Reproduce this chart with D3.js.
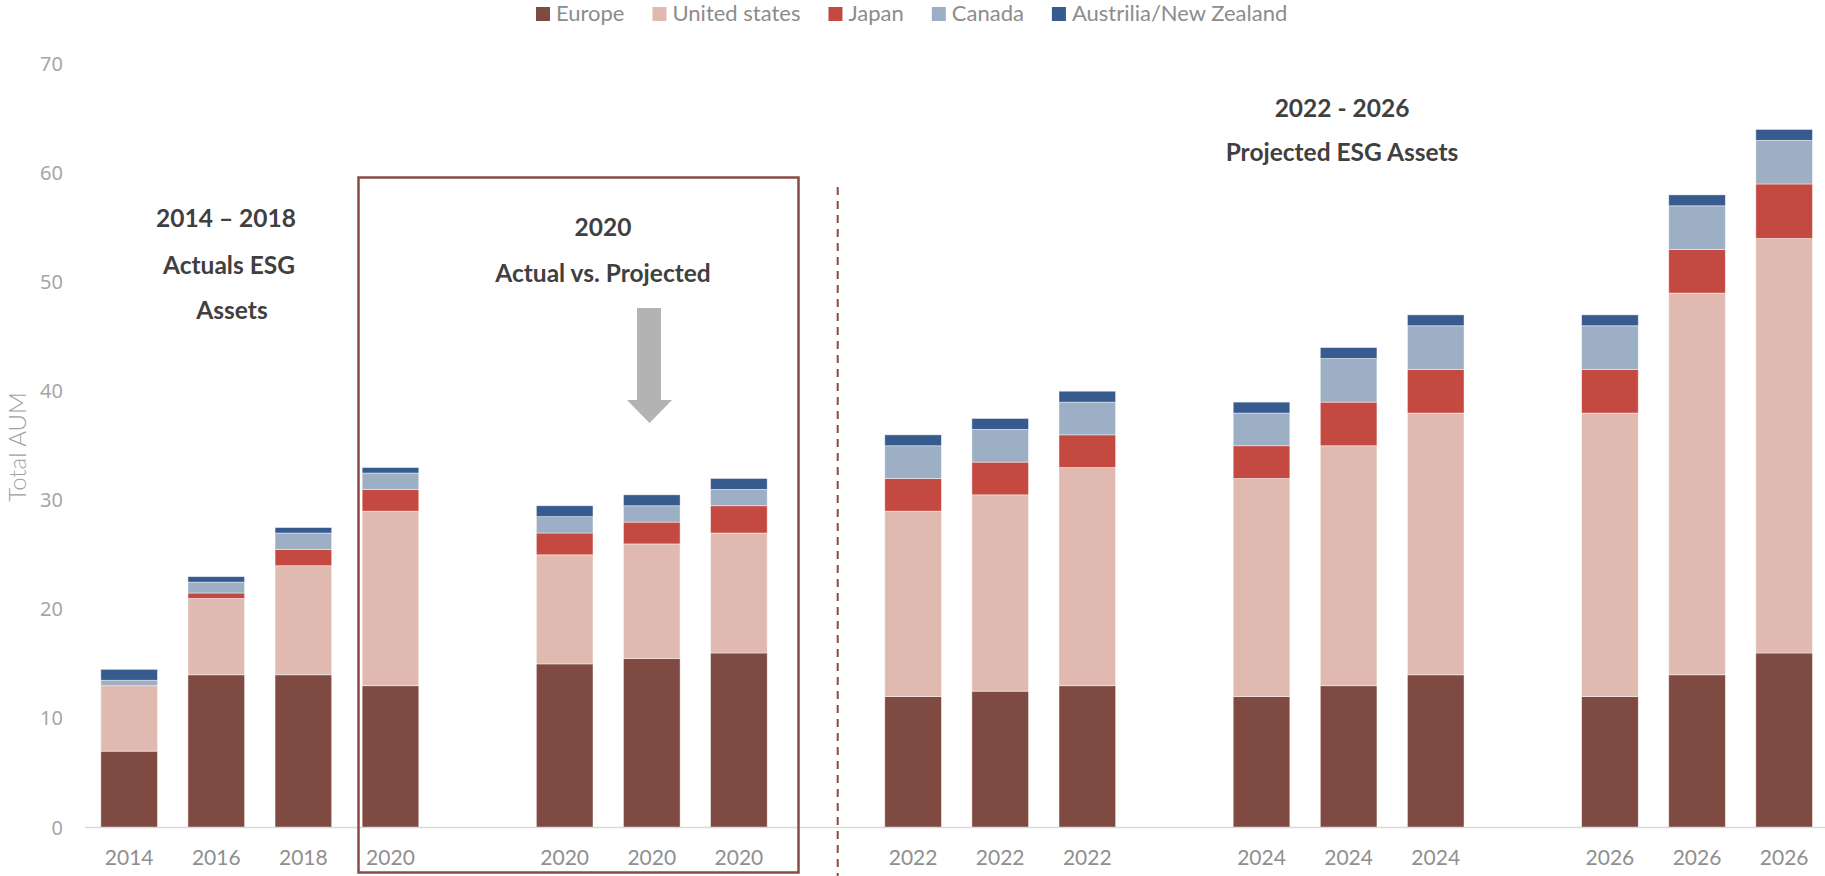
<!DOCTYPE html>
<html>
<head>
<meta charset="utf-8">
<script src="https://cdn.jsdelivr.net/npm/d3@7"></script>
<style>
  html, body { margin: 0; padding: 0; background: #ffffff; }
  svg { display: block; }
</style>
</head>
<body>
<svg id="chart" width="1825" height="876"></svg>
<script>
// Category slots along the x axis; empty strings are spacer slots between groups
const categories = ["2014", "2016", "2018", "2020", "", "2020", "2020", "2020", "",
  "2022", "2022", "2022", "", "2024", "2024", "2024", "", "2026", "2026", "2026"];

// ESG assets under management by region (stacked, bottom to top)
const europe       = [7, 14, 14, 13, null, 15, 15.5, 16, null, 12, 12.5, 13, null, 12, 13, 14, null, 12, 14, 16];
const unitedStates = [6, 7, 10, 16, null, 10, 10.5, 11, null, 17, 18, 20, null, 20, 22, 24, null, 26, 35, 38];
const japan        = [0, 0.5, 1.5, 2, null, 2, 2, 2.5, null, 3, 3, 3, null, 3, 4, 4, null, 4, 4, 5];
const canada       = [0.5, 1, 1.5, 1.5, null, 1.5, 1.5, 1.5, null, 3, 3, 3, null, 3, 4, 4, null, 4, 4, 4];
const australiaNZ  = [1, 0.5, 0.5, 0.5, null, 1, 1, 1, null, 1, 1, 1, null, 1, 1, 1, null, 1, 1, 1];

const seriesNames = ["Europe", "United states", "Japan", "Canada", "Austrilia/New Zealand"];
const seriesColors = ["#7e4a41", "#e0bab1", "#c44a41", "#9dafc4", "#375a8f"];
const yTicks = [0, 10, 20, 30, 40, 50, 60, 70];

const seriesValues = [europe, unitedStates, japan, canada, australiaNZ];
const rows = categories.map((c, i) => {
  const r = { idx: i, label: c, empty: europe[i] === null };
  seriesNames.forEach((n, k) => { r[n] = seriesValues[k][i] || 0; });
  return r;
});

const svg = d3.select("#chart");
const W = 1825, H = 876;

const x = d3.scaleBand()
  .domain(d3.range(categories.length))
  .range([85.6, 1827.7])
  .paddingInner(0.35)
  .paddingOuter(0.175);

const y = d3.scaleLinear().domain([0, 70]).range([827.5, 64]);

const textFont = "Lato, 'Open Sans', sans-serif";

// Y tick labels
svg.append("g").selectAll("text")
  .data(yTicks)
  .join("text")
  .attr("x", 63)
  .attr("y", d => y(d))
  .attr("dy", "0.35em")
  .attr("text-anchor", "end")
  .attr("font-family", "'Noto Sans', sans-serif")
  .attr("font-size", 20)
  .attr("fill", "#a6a6a6")
  .text(d => d);

// Y axis title
svg.append("text")
  .attr("transform", "translate(26,447) rotate(-90)")
  .attr("text-anchor", "middle")
  .attr("font-family", textFont)
  .attr("font-weight", 300)
  .attr("font-size", 24)
  .attr("fill", "#a0a0a0")
  .text("Total AUM");

// Stacked bars
const stack = d3.stack().keys(seriesNames);
const layers = stack(rows.filter(r => !r.empty));

svg.append("g").selectAll("g")
  .data(layers)
  .join("g")
  .attr("fill", (d, i) => seriesColors[i])
  .selectAll("rect")
  .data(d => d.filter(s => s[1] - s[0] > 0))
  .join("rect")
  .attr("x", d => x(d.data.idx))
  .attr("width", x.bandwidth())
  .attr("y", d => y(d[1]))
  .attr("height", d => y(d[0]) - y(d[1]))
  .attr("stroke", "#ffffff")
  .attr("stroke-opacity", 0.55)
  .attr("stroke-width", 0.8);

// Category axis line
svg.append("line")
  .attr("x1", 85).attr("x2", W)
  .attr("y1", y(0)).attr("y2", y(0))
  .attr("stroke", "#d9d9d9")
  .attr("stroke-width", 1.5);

// Category labels
svg.append("g").selectAll("text")
  .data(rows.filter(r => r.label !== ""))
  .join("text")
  .attr("x", d => x(d.idx) + x.bandwidth() / 2)
  .attr("y", 865)
  .attr("text-anchor", "middle")
  .attr("font-family", textFont)
  .attr("font-size", 21)
  .attr("fill", "#8f8f8f")
  .text(d => d.label);

// 2020 comparison frame
svg.append("rect")
  .attr("x", 358.5).attr("y", 177.5)
  .attr("width", 440).attr("height", 695)
  .attr("fill", "none")
  .attr("stroke", "#8a4b45")
  .attr("stroke-width", 2.5);

// Divider between actuals and projections
svg.append("line")
  .attr("x1", 837.7).attr("x2", 837.7)
  .attr("y1", 187).attr("y2", H)
  .attr("stroke", "#8a4b45")
  .attr("stroke-width", 2)
  .attr("stroke-dasharray", "8,6");

// Down arrow
svg.append("path")
  .attr("d", "M637,308 L661,308 L661,400 L672,400 L649.5,423 L627,400 L637,400 Z")
  .attr("fill", "#b3b3b3");

// Section annotations
const notes = [
  { t: "2014 \u2013 2018", x: 226, y: 227 },
  { t: "Actuals ESG", x: 229, y: 274 },
  { t: "Assets", x: 232, y: 319 },
  { t: "2020", x: 603, y: 236 },
  { t: "Actual vs. Projected", x: 603, y: 282 },
  { t: "2022 - 2026", x: 1342, y: 117 },
  { t: "Projected ESG Assets", x: 1342, y: 161 }
];
svg.append("g").selectAll("text")
  .data(notes)
  .join("text")
  .attr("x", d => d.x)
  .attr("y", d => d.y)
  .attr("text-anchor", "middle")
  .attr("font-family", textFont)
  .attr("font-weight", 700)
  .attr("font-size", 24.5)
  .attr("fill", "#404040")
  .text(d => d.t);

// Legend
const legend = svg.append("g");
let lx = 536;
seriesNames.forEach((name, i) => {
  legend.append("rect")
    .attr("x", lx).attr("y", 7)
    .attr("width", 14).attr("height", 14)
    .attr("fill", seriesColors[i]);
  const t = legend.append("text")
    .attr("x", lx + 20).attr("y", 21)
    .attr("font-family", textFont)
    .attr("font-size", 22)
    .attr("fill", "#8c8c8c")
    .text(name);
  lx += 20 + t.node().getComputedTextLength() + 28;
});
</script>
</body>
</html>
